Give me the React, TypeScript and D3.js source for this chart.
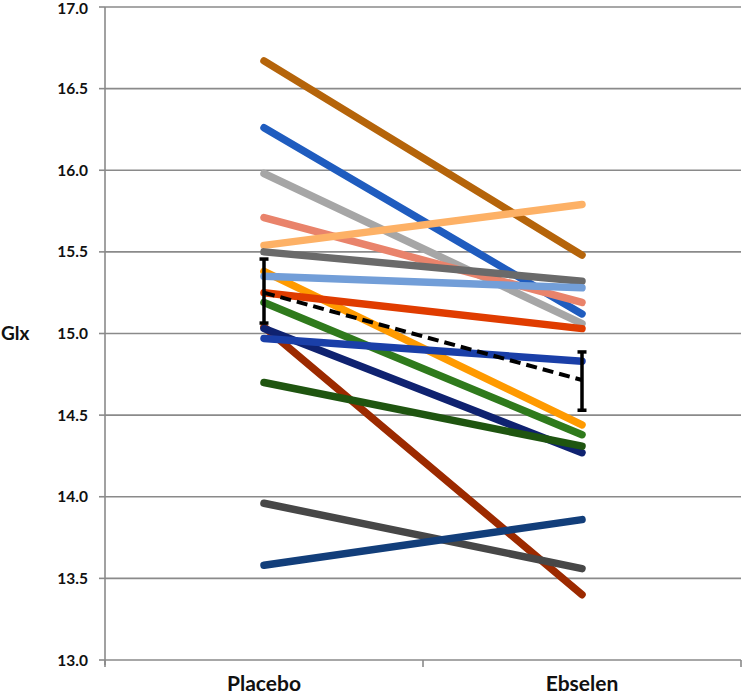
import React from "react";
import * as d3 from "d3";

const categories = ["Placebo", "Ebselen"];
const yTicks = [13.0, 13.5, 14.0, 14.5, 15.0, 15.5, 16.0, 16.5, 17.0];

const placebo = [16.67, 16.26, 15.98, 15.71, 15.54, 15.5, 15.38, 15.35, 15.25, 15.19, 15.04, 15.03, 14.97, 14.7, 13.96, 13.58];
const ebselen = [15.48, 15.12, 15.06, 15.19, 15.79, 15.32, 14.44, 15.28, 15.03, 14.38, 13.4, 14.27, 14.83, 14.31, 13.56, 13.86];
const colors = [
  "#B5640A", "#1F5CBF", "#A6A6A6", "#E9836B", "#FDB166", "#6A6A6A", "#FF9A00", "#729ED8",
  "#E03C00", "#2F7A1C", "#9C2A00", "#0F2270", "#1A3FA8", "#1F5510", "#474747", "#123E7A",
];

const meanValues = [15.25, 14.715];
const errLow = [15.064, 14.53];
const errHigh = [15.456, 14.887];

export default function App() {
  const W = 742, H = 698;
  const left = 105, right = 741, top = 7, bottom = 660;
  const x = d3.scaleBand().domain(categories).range([left, right]).paddingInner(0).paddingOuter(0);
  const y = d3.scaleLinear().domain([13, 17]).range([bottom, top]);
  const cx = (c: string) => (x(c) as number) + x.bandwidth() / 2;
  const line = d3.line<[number, number]>().x((d) => d[0]).y((d) => d[1]);
  const font = "Lato, 'Open Sans', sans-serif";

  return (
    <svg width={W} height={H} style={{ position: "absolute", left: 0, top: 0, background: "#fff" }}>
      {yTicks.map((t) => (
        <g key={t}>
          {t > 13 && <line x1={left} x2={right} y1={y(t)} y2={y(t)} stroke="#8a8a8a" strokeWidth={1.6} />}
          <line x1={left - 6} x2={left} y1={y(t)} y2={y(t)} stroke="#8a8a8a" strokeWidth={1.6} />
          <text x={88} y={Math.max(y(t), 8.5)} dy="0.36em" textAnchor="end" fontFamily={font} fontWeight={700} fontSize={15.5} fill="#111">
            {t.toFixed(1)}
          </text>
        </g>
      ))}
      <line x1={left} x2={left} y1={top} y2={bottom + 5} stroke="#8a8a8a" strokeWidth={1.6} />
      <line x1={left} x2={right} y1={bottom} y2={bottom} stroke="#8a8a8a" strokeWidth={1.6} />
      {[left, left + x.bandwidth(), right].map((tx, i) => (
        <line key={i} x1={tx} x2={tx} y1={bottom} y2={bottom + 7} stroke="#8a8a8a" strokeWidth={1.6} />
      ))}
      {categories.map((c) => (
        <text key={c} x={cx(c)} y={691} textAnchor="middle" fontFamily={font} fontWeight={700} fontSize={21} fill="#111">
          {c}
        </text>
      ))}
      <text x={1} y={y(15.0)} dy="0.36em" fontFamily={font} fontWeight={700} fontSize={19} fill="#111">Glx</text>

      {placebo.map((p, i) => (
        <path
          key={i}
          d={line([[cx(categories[0]), y(p)], [cx(categories[1]), y(ebselen[i])]]) as string}
          stroke={colors[i]}
          strokeWidth={7.5}
          strokeLinecap="round"
          fill="none"
        />
      ))}

      <path
        d={line([[cx(categories[0]), y(meanValues[0])], [cx(categories[1]), y(meanValues[1])]]) as string}
        stroke="#000"
        strokeWidth={4}
        strokeDasharray="11,6"
        fill="none"
      />
      {categories.map((c, i) => (
        <g key={c} stroke="#000" strokeWidth={3.5}>
          <line x1={cx(c)} x2={cx(c)} y1={y(errLow[i])} y2={y(errHigh[i])} />
          <line x1={cx(c) - 4.5} x2={cx(c) + 4.5} y1={y(errLow[i])} y2={y(errLow[i])} />
          <line x1={cx(c) - 4.5} x2={cx(c) + 4.5} y1={y(errHigh[i])} y2={y(errHigh[i])} />
        </g>
      ))}
    </svg>
  );
}
